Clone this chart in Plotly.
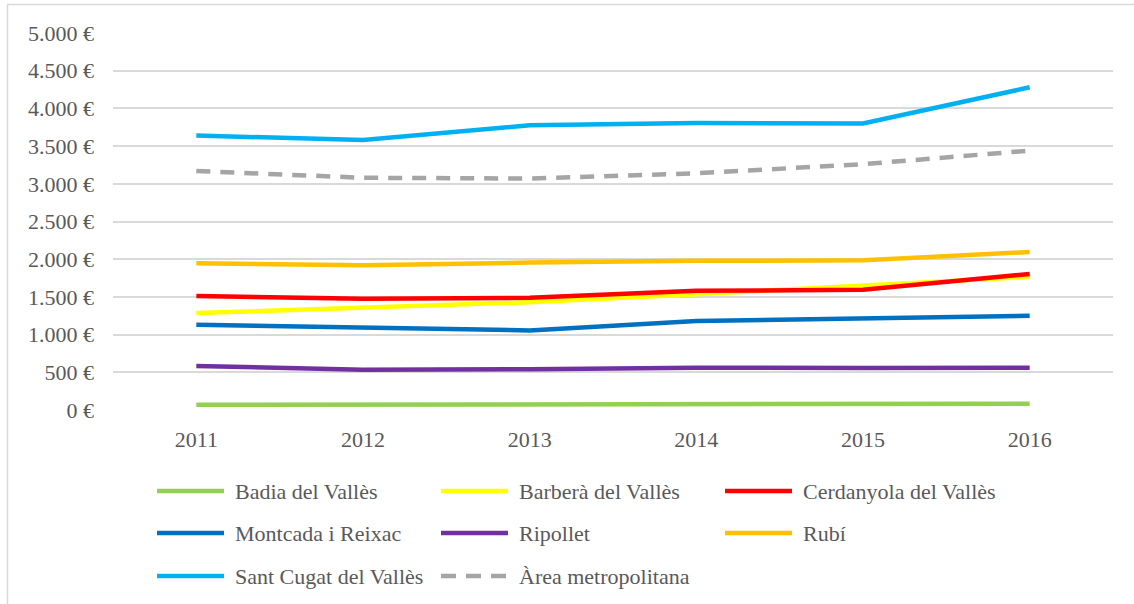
import plotly.graph_objects as go

years = [2011, 2012, 2013, 2014, 2015, 2016]
series_names = ["Badia del Vallès", "Barberà del Vallès", "Cerdanyola del Vallès",
                "Montcada i Reixac", "Ripollet", "Rubí",
                "Sant Cugat del Vallès", "Àrea metropolitana"]
badia = [70, 72, 68, 70, 78, 82]
barbera = [1285, 1355, 1430, 1535, 1655, 1765]
cerdanyola = [1512, 1475, 1488, 1580, 1595, 1805]
montcada = [1130, 1095, 1055, 1180, 1220, 1250]
ripollet = [585, 535, 540, 560, 558, 560]
rubi = [1945, 1920, 1955, 1978, 1985, 2095]
sant_cugat = [3640, 3580, 3775, 3805, 3800, 4280]
area_metro = [3170, 3080, 3070, 3140, 3260, 3440]
values = [badia, barbera, cerdanyola, montcada, ripollet, rubi, sant_cugat, area_metro]
colors = ["#92D050", "#FFFF00", "#FF0000", "#0070C0", "#7030A0", "#FFC000", "#00B0F0", "#A5A5A5"]
dashes = ["solid"] * 7 + ["14px,10px"]
y_ticks = [0, 500, 1000, 1500, 2000, 2500, 3000, 3500, 4000, 4500, 5000]
y_ticklabels = ["0 €", "500 €", "1.000 €", "1.500 €", "2.000 €", "2.500 €",
                "3.000 €", "3.500 €", "4.000 €", "4.500 €", "5.000 €"]

W, H = 1134, 604
L, R, T, B = 113, 1113, 33, 410
FONT = "Liberation Serif"
GREY = "#595959"
FS = 22

def px_x(px):
    return (px - L) / (R - L)

def px_y(py):
    return (B - py) / (B - T)

fig = go.Figure()
for name, vals, col, dash in zip(series_names, values, colors, dashes):
    fig.add_trace(go.Scatter(x=years, y=vals, name=name, mode="lines",
                             line=dict(color=col, width=4.5, dash=dash),
                             showlegend=False, hoverinfo="skip"))

shapes = []
annotations = []
# chart border (top and left only visible)
shapes.append(dict(type="line", xref="paper", yref="paper",
                   x0=px_x(7), x1=px_x(1134), y0=px_y(4.5), y1=px_y(4.5),
                   line=dict(color="#D9D9D9", width=1.5)))
shapes.append(dict(type="line", xref="paper", yref="paper",
                   x0=px_x(7.5), x1=px_x(7.5), y0=px_y(4.5), y1=px_y(604),
                   line=dict(color="#D9D9D9", width=1.5)))

col_x = [157, 441, 725]
row_y = [491, 533, 576]
for i, (name, col, dash) in enumerate(zip(series_names, colors, dashes)):
    r, c = divmod(i, 3)
    x0 = col_x[c]
    yy = row_y[r]
    shapes.append(dict(type="line", xref="paper", yref="paper",
                       x0=px_x(x0), x1=px_x(x0 + 67), y0=px_y(yy), y1=px_y(yy),
                       line=dict(color=col, width=4.5,
                                 dash="15px,10px" if dash != "solid" else "solid")))
    annotations.append(dict(xref="paper", yref="paper", x=px_x(x0 + 76), y=px_y(yy),
                            xanchor="left", yanchor="middle", text=name, showarrow=False,
                            font=dict(family=FONT, size=FS, color=GREY)))

fig.update_layout(
    width=W, height=H,
    margin=dict(l=L, r=W - R, t=T, b=H - B),
    paper_bgcolor="white", plot_bgcolor="white",
    font=dict(family=FONT, size=FS, color=GREY),
    shapes=shapes, annotations=annotations,
    hovermode=False,
    xaxis=dict(range=[2010.5, 2016.5], tickvals=years, ticktext=[str(y) for y in years],
               showgrid=False, zeroline=False, showline=False, ticks="",
               ticklabelstandoff=14, tickfont=dict(family=FONT, size=FS, color=GREY)),
    yaxis=dict(range=[0, 5000], tickvals=y_ticks, ticktext=y_ticklabels,
               showgrid=True, gridcolor="#D9D9D9", gridwidth=1.5,
               zeroline=False, showline=False, ticks="",
               ticklabelstandoff=18, tickfont=dict(family=FONT, size=FS, color=GREY)),
)
fig.write_html("out.html", config={"displayModeBar": False},
               post_script="document.body.style.margin='0';document.body.style.padding='0';")
